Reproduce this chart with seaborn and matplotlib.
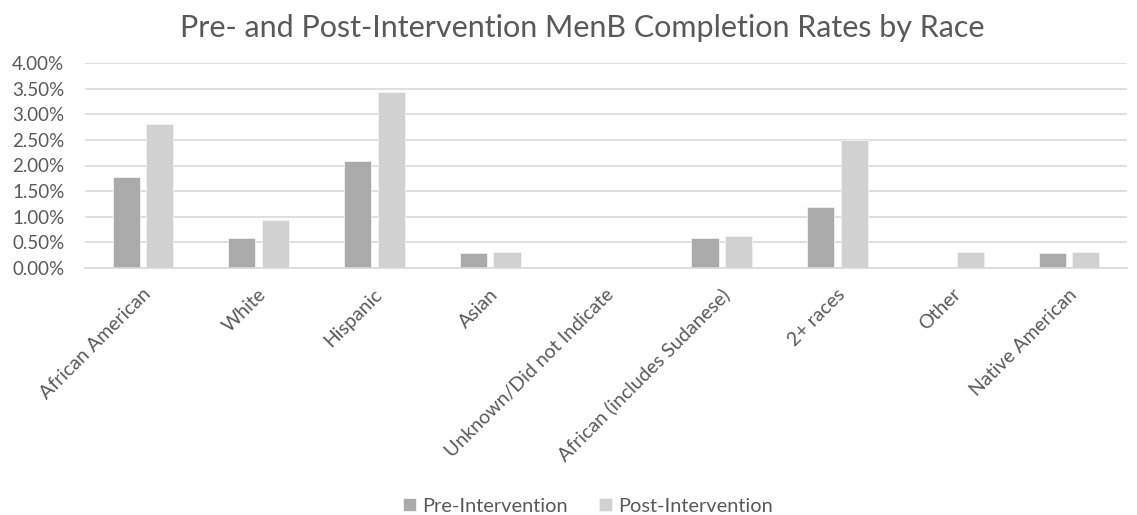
import matplotlib
matplotlib.use("Agg")
import matplotlib.pyplot as plt
import matplotlib.transforms as mtransforms
import seaborn as sns
import pandas as pd
from matplotlib.ticker import PercentFormatter, MultipleLocator

categories = ["African American", "White", "Hispanic", "Asian", "Unknown/Did not Indicate",
              "African (includes Sudanese)", "2+ races", "Other", "Native American"]
pre_values = [1.78, 0.59, 2.08, 0.29, 0.0, 0.59, 1.19, 0.0, 0.29]
post_values = [2.81, 0.93, 3.44, 0.31, 0.0, 0.62, 2.50, 0.31, 0.31]
series_names = ["Pre-Intervention", "Post-Intervention"]
title_text = "Pre- and Post-Intervention MenB Completion Rates by Race"

df = pd.DataFrame({
    "Race": categories * 2,
    "Rate": pre_values + post_values,
    "Series": [series_names[0]] * len(categories) + [series_names[1]] * len(categories),
})

sns.set_style("white")
plt.rcParams["font.family"] = ["Lato", "DejaVu Sans"]
text_color = "#595959"

fig = plt.figure(figsize=(11.37, 5.15), dpi=100)
ax = fig.add_axes([85 / 1137, 1 - 268 / 515, (1127 - 85) / 1137, (268 - 63) / 515])

sns.barplot(data=df, x="Race", y="Rate", hue="Series", order=categories,
            hue_order=series_names, palette=["#A9AAA9", "#D0D1D0"],
            width=0.58, gap=0.19, edgecolor="#F2F2F2", linewidth=0.6, ax=ax, legend=True)

ax.set_ylim(0, 4.0)
ax.yaxis.set_major_locator(MultipleLocator(0.5))
ax.yaxis.set_major_formatter(PercentFormatter(decimals=2))
ax.grid(axis="y", color="#D9D9D9", linewidth=1.2)
ax.set_axisbelow(True)
for s in ["top", "right", "left"]:
    ax.spines[s].set_visible(False)
ax.spines["bottom"].set_color("#D9D9D9")
ax.spines["bottom"].set_linewidth(1.2)
ax.set_xlabel("")
ax.set_ylabel("")
ax.tick_params(axis="y", length=0, colors=text_color, labelsize=13.5, pad=52.5)
for lbl in ax.get_yticklabels():
    lbl.set_horizontalalignment("left")
ax.tick_params(axis="x", length=0, colors=text_color, labelsize=14, pad=17)
offset = mtransforms.ScaledTranslation(5 / 100, 0, fig.dpi_scale_trans)
for lbl in ax.get_xticklabels():
    lbl.set_rotation(45)
    lbl.set_horizontalalignment("right")
    lbl.set_verticalalignment("center")
    lbl.set_rotation_mode("anchor")
    lbl.set_transform(lbl.get_transform() + offset)

fig.text(582 / 1137, 1 - 28 / 515, title_text, color=text_color, fontsize=22,
         ha="center", va="center")

handles, labels = ax.get_legend_handles_labels()
ax.get_legend().remove()
fig.legend(handles, labels, loc="center", bbox_to_anchor=(588 / 1137, 1 - 506 / 515), ncol=2,
           frameon=False, fontsize=14.4, labelcolor=text_color, handlelength=0.65,
           handleheight=0.65, handletextpad=0.3, columnspacing=1.6)

fig.savefig("out.png", dpi=100)
